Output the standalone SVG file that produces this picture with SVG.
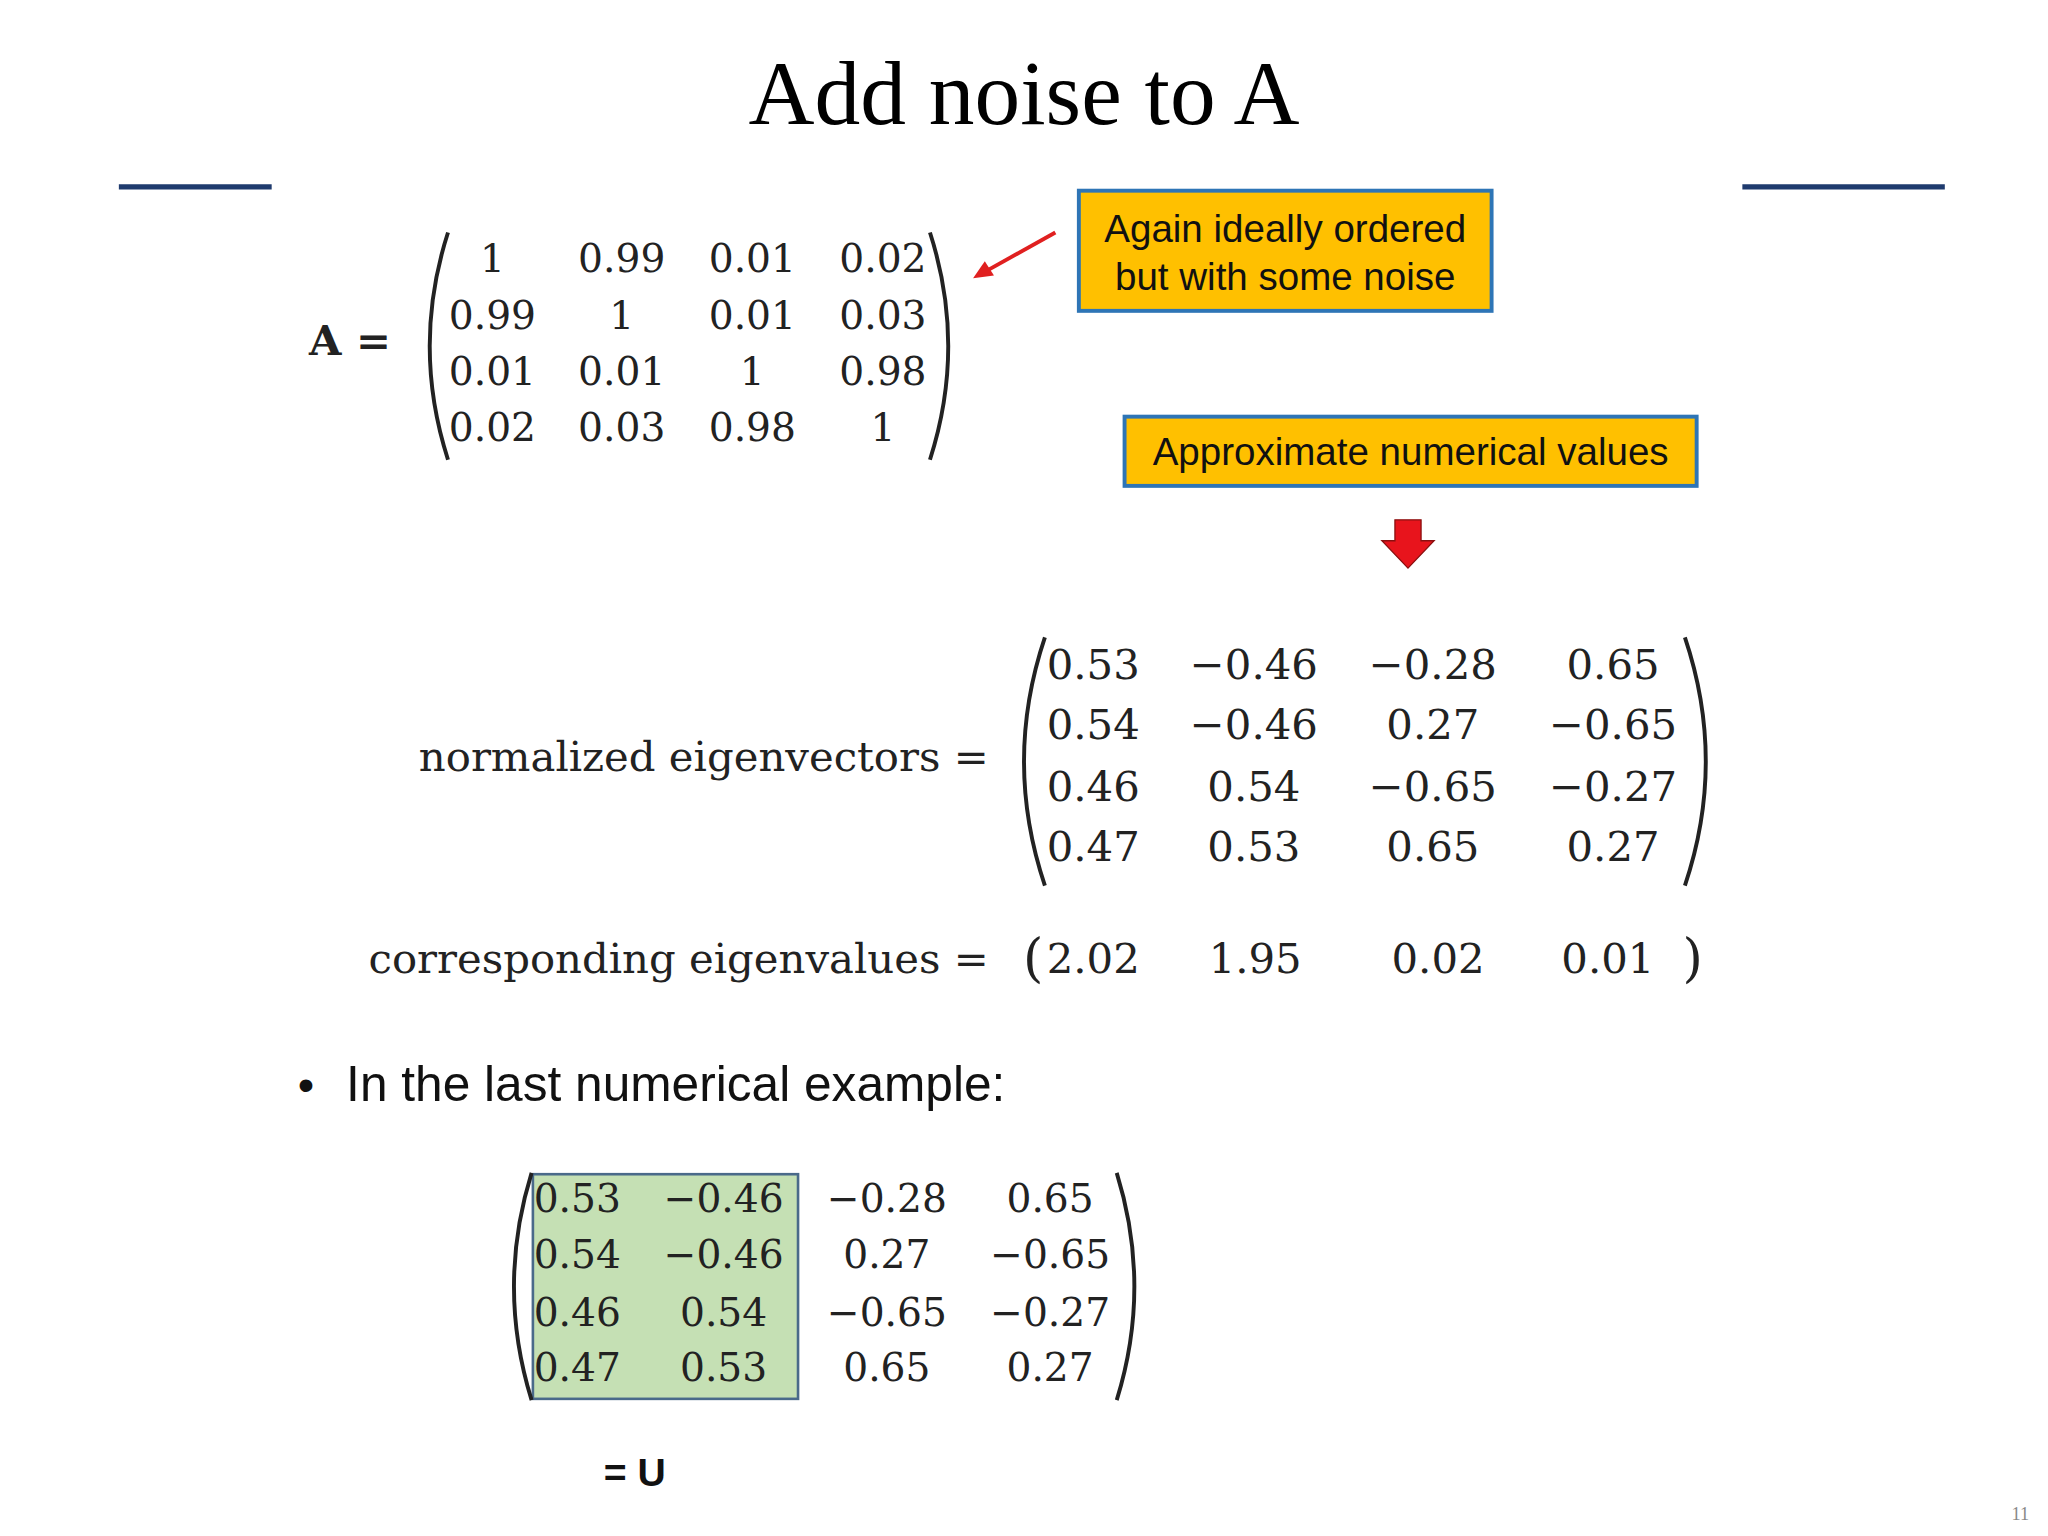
<svg xmlns="http://www.w3.org/2000/svg" width="2048" height="1536" viewBox="0 0 2048 1536">
<style>
.m{font-family:"DejaVu Serif","Liberation Serif",serif;text-anchor:middle;fill:#222}
.s{font-family:"Liberation Sans","Open Sans",sans-serif;fill:#111}
.p{fill:none;stroke:#222;stroke-width:3}
</style>
<rect width="2048" height="1536" fill="#fff"/>
<g transform="scale(1.30612)">
<g id="title"><text x="784" y="95" font-family="Liberation Serif,serif" font-size="70" text-anchor="middle">Add noise to A</text>
<line x1="91" y1="143" x2="208" y2="143" stroke="#1f3b6e" stroke-width="4"/>
<line x1="1334" y1="143" x2="1489" y2="143" stroke="#1f3b6e" stroke-width="4"/></g>
<g id="matrixA" class="m" font-size="30">
<text x="268" y="272" font-weight="bold" font-size="32">A =</text>
<path class="p" d="M343,178 Q315,265 343,352"/><path class="p" d="M712,178 Q740,265 712,352"/>
<text x="377" y="208">1</text><text x="476" y="208">0.99</text><text x="576" y="208">0.01</text><text x="676" y="208">0.02</text>
<text x="377" y="252">0.99</text><text x="476" y="252">1</text><text x="576" y="252">0.01</text><text x="676" y="252">0.03</text>
<text x="377" y="295">0.01</text><text x="476" y="295">0.01</text><text x="576" y="295">1</text><text x="676" y="295">0.98</text>
<text x="377" y="338">0.02</text><text x="476" y="338">0.03</text><text x="576" y="338">0.98</text><text x="676" y="338">1</text>
</g>
<g id="connectors">
<line x1="808" y1="178" x2="756" y2="207" stroke="#e02020" stroke-width="3"/>
<polygon points="745,213 754,200 761,211" fill="#e02020"/>
<polygon points="1068,398 1088,398 1088,414 1098,414 1078,435 1058,414 1068,414" fill="#e8141c" stroke="#8a1010" stroke-width="1"/>
</g>
<g id="box1"><rect x="826" y="146" width="316" height="92" fill="#FFC000" stroke="#2E75B6" stroke-width="3"/>
<text class="s" x="984" y="185" font-size="29.5" text-anchor="middle">Again ideally ordered</text>
<text class="s" x="984" y="222" font-size="29.5" text-anchor="middle">but with some noise</text></g>
<g id="box2"><rect x="861" y="319" width="438" height="53" fill="#FFC000" stroke="#2E75B6" stroke-width="3"/>
<text class="s" x="1080" y="356" font-size="29.5" text-anchor="middle">Approximate numerical values</text></g>
<g id="eigvec" class="m" font-size="32">
<text x="757" y="590" text-anchor="end">normalized eigenvectors =</text>
<path class="p" d="M800,488 Q768,583 800,678"/><path class="p" d="M1290,488 Q1322,583 1290,678"/>
<text x="837" y="520">0.53</text><text x="960" y="520">−0.46</text><text x="1097" y="520">−0.28</text><text x="1235" y="520">0.65</text>
<text x="837" y="566">0.54</text><text x="960" y="566">−0.46</text><text x="1097" y="566">0.27</text><text x="1235" y="566">−0.65</text>
<text x="837" y="613">0.46</text><text x="960" y="613">0.54</text><text x="1097" y="613">−0.65</text><text x="1235" y="613">−0.27</text>
<text x="837" y="659">0.47</text><text x="960" y="659">0.53</text><text x="1097" y="659">0.65</text><text x="1235" y="659">0.27</text>
</g>
<g id="eigval" class="m" font-size="32">
<text x="757" y="745" text-anchor="end">corresponding eigenvalues =</text>
<text x="791" y="747" font-size="40">(</text>
<text x="837" y="745">2.02</text><text x="961" y="745">1.95</text><text x="1101" y="745">0.02</text><text x="1231" y="745">0.01</text>
<text x="1296" y="747" font-size="40">)</text>
</g>
<g id="bullet"><text class="s" x="228" y="843" font-size="36">•</text><text class="s" x="265" y="843" font-size="38">In the last numerical example:</text></g>
<g id="matrixU" class="m" font-size="30">
<rect x="408" y="899" width="203" height="172" fill="#C5E0B4" stroke="#4a6a8a" stroke-width="2"/>
<path class="p" d="M407,898 Q380,985 407,1072"/><path class="p" d="M855,898 Q882,985 855,1072"/>
<text x="442" y="928">0.53</text><text x="554" y="928">−0.46</text><text x="679" y="928">−0.28</text><text x="804" y="928">0.65</text>
<text x="442" y="971">0.54</text><text x="554" y="971">−0.46</text><text x="679" y="971">0.27</text><text x="804" y="971">−0.65</text>
<text x="442" y="1015">0.46</text><text x="554" y="1015">0.54</text><text x="679" y="1015">−0.65</text><text x="804" y="1015">−0.27</text>
<text x="442" y="1057">0.47</text><text x="554" y="1057">0.53</text><text x="679" y="1057">0.65</text><text x="804" y="1057">0.27</text>
<text x="486" y="1138" class="s" font-size="30" font-weight="bold" text-anchor="middle">= U</text>
</g>
<text x="1540" y="1164" font-family="Liberation Serif,serif" font-size="14" fill="#888">11</text>
</g>
</svg>
